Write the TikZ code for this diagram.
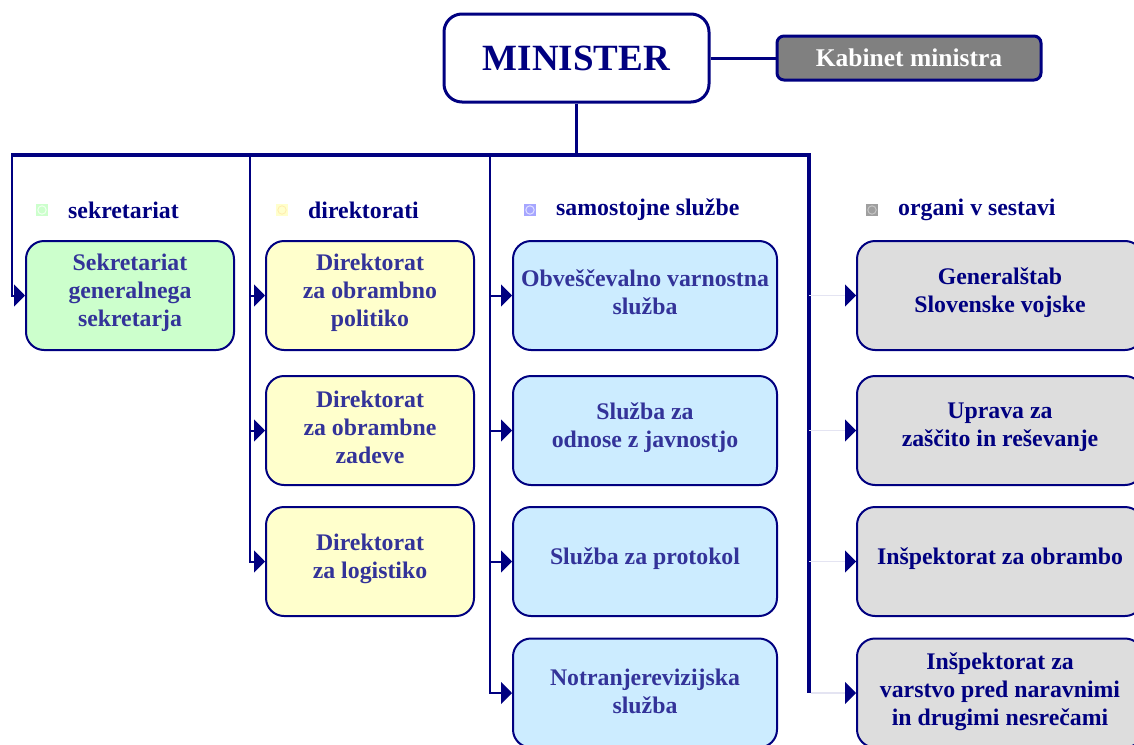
\documentclass[tikz,border=0pt]{standalone}
\usepackage{fontspec}
\setmainfont{Liberation Serif}
\usetikzlibrary{arrows.meta,calc}
\definecolor{navy}{HTML}{000080}
\definecolor{slate}{HTML}{333399}
\definecolor{grn}{HTML}{CCFFCC}
\definecolor{yel}{HTML}{FFFFCC}
\definecolor{blu}{HTML}{CCECFF}
\definecolor{gry}{HTML}{DDDDDD}
\definecolor{kab}{HTML}{808080}
\definecolor{faint}{HTML}{E4E4F2}
\begin{document}
\begin{tikzpicture}[x=1pt,y=-1pt,
  box/.style={draw=navy,line width=2pt,rounded corners=18pt,minimum width=#1,minimum height=109pt,inner sep=0pt},
  box/.default=208pt,
  txt/.style={font=\bfseries\fontsize{23.8}{28}\selectfont,align=center,text=slate},
  txtg/.style={txt,text=navy},
  head/.style={font=\bfseries\fontsize{23.8}{26}\selectfont,text=navy,anchor=west,inner sep=0pt},
  conn/.style={draw=navy,line width=2pt},
  tip/.style={-{Triangle[length=11pt,width=22pt,color=navy]}},
  busl/.style={draw=navy,line width=4pt},
  faintl/.style={draw=faint,line width=1.5pt}
]
\useasboundingbox (0,0) rectangle (1134,744);
\begin{scope}
\clip (0,0) rectangle (1134,744);
% top
\node[draw=navy,line width=3pt,rounded corners=18pt,minimum width=265pt,minimum height=88pt,inner sep=0pt,font=\bfseries\fontsize{37}{40}\selectfont,text=navy] (min) at (576.5,58) {MINISTER};
\node[draw=navy,line width=3pt,fill=kab,rounded corners=7pt,minimum width=264pt,minimum height=44pt,inner sep=0pt,font=\bfseries\fontsize{25.5}{28}\selectfont,text=white] (kab) at (909,58) {Kabinet ministra};
\draw[conn,line width=3pt] (min.east) -- (kab.west);
% bus coordinates
\coordinate (bm) at (576.5,155);
\coordinate (b1) at (12,155);
\coordinate (b2) at (250,155);
\coordinate (b3) at (490,155);
\coordinate (b4) at (809,155);
% boxes
\node[box,fill=grn] (s1) at (130,295.5) {};
\node[box,fill=yel] (d1) at (370,295.5) {};
\node[box,fill=yel] (d2) at (370,430.5) {};
\node[box,fill=yel] (d3) at (370,561.5) {};
\node[box=264pt,fill=blu] (j1) at (645,295.5) {};
\node[box=264pt,fill=blu] (j2) at (645,430.5) {};
\node[box=264pt,fill=blu] (j3) at (645,561.5) {};
\node[box=264pt,fill=blu] (j4) at (645,693) {};
\node[box=286pt,fill=gry] (o1) at (1000,295.5) {};
\node[box=286pt,fill=gry] (o2) at (1000,430.5) {};
\node[box=286pt,fill=gry] (o3) at (1000,561.5) {};
\node[box=286pt,fill=gry] (o4) at (1000,693) {};
% texts
\node[txt] (ts1) at ($(s1.center)+(0,-3)$) {Sekretariat\\generalnega\\sekretarja};
\node[txt] (td1) at ($(d1.center)+(0,-3)$) {Direktorat\\za obrambno\\politiko};
\node[txt] (td2) at ($(d2.center)+(0,-3)$) {Direktorat\\za obrambne\\zadeve};
\node[txt] (td3) at ($(d3.center)+(0,-3)$) {Direktorat\\za logistiko};
\node[txt] (tj1) at ($(j1.center)+(0,-3)$) {Obveščevalno varnostna\\služba};
\node[txt] (tj2) at ($(j2.center)+(0,-3)$) {Služba za\\odnose z javnostjo};
\node[txt] (tj3) at ($(j3.center)+(0,-3)$) {Služba za protokol};
\node[txt] (tj4) at ($(j4.center)+(0,-2)$) {Notranjerevizijska\\služba};
\node[txtg] (to1) at ($(o1.center)+(0,-3)$) {Generalštab\\Slovenske vojske};
\node[txtg] (to2) at ($(o2.center)+(0,-3)$) {Uprava za\\zaščito in reševanje};
\node[txtg] (to3) at ($(o3.center)+(0,-3)$) {Inšpektorat za obrambo};
\node[txtg] (to4) at ($(o4.center)+(0,-1)$) {Inšpektorat za\\varstvo pred naravnimi\\in drugimi nesrečami};
% bullets
\fill[grn] (36,204) rectangle (48,216); \draw[white!70!grn,line width=1pt] (42,210) circle (4.2);
\fill[yel] (276,204) rectangle (288,216); \draw[yel!85!orange,line width=0.8pt] (282,210) circle (4.2);
\fill[blue!35!white] (524,204) rectangle (536,216); \draw[blue!12!white,line width=1pt] (530,210) circle (4.2);
\fill[gray!75] (866,204) rectangle (878,216); \draw[gray!45,line width=1pt] (872,210) circle (4.2);
% headings
\node[head] (h1) at (68,210) {sekretariat};
\node[head] (h2) at (308,210) {direktorati};
\node[head] (h3) at (556,210) {samostojne službe};
\node[head] (h4) at (898,210) {organi v sestavi};
% connectors
\draw[conn,line width=3.5pt] (min.south) -- (bm);
\draw[busl] ([xshift=-1pt]b1) -- ([xshift=2pt]b4);
\draw[conn,tip] (b1) |- (s1.west);
\draw[conn,tip] (b2) |- (d1.west);
\draw[conn,tip] (b2) |- (d2.west);
\draw[conn,tip] (b2) |- (d3.west);
\draw[conn,tip] (b3) |- (j1.west);
\draw[conn,tip] (b3) |- (j2.west);
\draw[conn,tip] (b3) |- (j3.west);
\draw[conn,tip] (b3) |- (j4.west);
\draw[busl] (b4) -- (b4 |- o4.west);
\draw[faintl,tip] (b4 |- o1.west) -- (o1.west);
\draw[faintl,tip] (b4 |- o2.west) -- (o2.west);
\draw[faintl,tip] (b4 |- o3.west) -- (o3.west);
\draw[faintl,tip] ([xshift=2pt]b4 |- o4.west) -- (o4.west);
\end{scope}
\end{tikzpicture}
\end{document}
